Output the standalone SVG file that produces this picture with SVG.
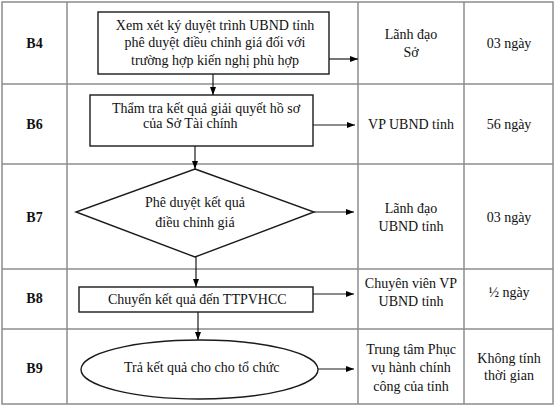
<svg xmlns="http://www.w3.org/2000/svg" width="555" height="407" viewBox="0 0 555 407">
<defs>
<marker id="ah" markerWidth="8" markerHeight="6" refX="8" refY="3" orient="auto" markerUnits="userSpaceOnUse">
<path d="M0,0 L8,3 L0,6 Z" fill="#000"/>
</marker>
<style>
.grid{stroke:#8c8c8c;stroke-width:1.5;fill:none}
.shape{stroke:#1a1a1a;stroke-width:1.4;fill:#fff}
.conn{stroke:#1a1a1a;stroke-width:1.2;fill:none;marker-end:url(#ah)}
text{font-family:"Liberation Serif","Times New Roman",serif;font-size:14px;fill:#111}
.c{text-anchor:middle}
.b{font-weight:bold}
</style>
</defs>
<rect width="555" height="407" fill="#fff"/>
<g id="table">
<rect class="grid" x="2" y="2" width="551" height="402"/>
<line class="grid" x1="67" y1="2" x2="67" y2="404"/>
<line class="grid" x1="358" y1="2" x2="358" y2="404"/>
<line class="grid" x1="464" y1="2" x2="464" y2="404"/>
<line class="grid" x1="2" y1="84" x2="553" y2="84"/>
<line class="grid" x1="2" y1="164" x2="553" y2="164"/>
<line class="grid" x1="2" y1="269" x2="553" y2="269"/>
<line class="grid" x1="2" y1="329" x2="553" y2="329"/>
</g>
<g id="labels">
<text class="c b" x="34.5" y="48">B4</text>
<text class="c b" x="34.5" y="129">B6</text>
<text class="c b" x="34.5" y="222">B7</text>
<text class="c b" x="34.5" y="303">B8</text>
<text class="c b" x="34.5" y="373">B9</text>
</g>
<g id="actors">
<text class="c" x="411" y="39">Lãnh đạo</text>
<text class="c" x="411" y="57">Sở</text>
<text class="c" x="411" y="129">VP UBND tỉnh</text>
<text class="c" x="411" y="213">Lãnh đạo</text>
<text class="c" x="411" y="231">UBND tỉnh</text>
<text class="c" x="411" y="288">Chuyên viên VP</text>
<text class="c" x="411" y="306">UBND tỉnh</text>
<text class="c" x="411" y="354">Trung tâm Phục</text>
<text class="c" x="411" y="372">vụ hành chính</text>
<text class="c" x="411" y="391">công của tỉnh</text>
</g>
<g id="times">
<text class="c" x="509" y="48">03 ngày</text>
<text class="c" x="509" y="129">56 ngày</text>
<text class="c" x="509" y="222">03 ngày</text>
<text class="c" x="509" y="297">½ ngày</text>
<text class="c" x="509" y="363">Không tính</text>
<text class="c" x="509" y="380">thời gian</text>
</g>
<g id="connectors">
<line class="conn" x1="213" y1="74" x2="213" y2="95"/>
<line class="conn" x1="329" y1="59" x2="358" y2="59"/>
<line class="conn" x1="195" y1="146" x2="195" y2="169"/>
<line class="conn" x1="313" y1="125" x2="355" y2="125"/>
<line class="conn" x1="314" y1="212" x2="354" y2="212"/>
<line class="conn" x1="196" y1="257" x2="196" y2="287"/>
<line class="conn" x1="313" y1="294" x2="354" y2="294"/>
<line class="conn" x1="198" y1="312" x2="198" y2="340"/>
<line class="conn" x1="318" y1="369" x2="354" y2="369"/>
</g>
<g id="n-b4">
<rect class="shape" x="98" y="12" width="231" height="62"/>
<text class="c" x="215" y="29.5">Xem xét ký duyệt trình UBND tỉnh</text>
<text class="c" x="215" y="47">phê duyệt điều chỉnh giá đối với</text>
<text class="c" x="215" y="64.5">trường hợp kiến nghị phù hợp</text>
</g>
<g id="n-b6">
<rect class="shape" x="90" y="95" width="223" height="51"/>
<text x="112" y="113">Thẩm tra kết quả giải quyết hồ sơ</text>
<text x="143" y="128">của Sở Tài chính</text>
</g>
<g id="n-b7">
<polygon class="shape" points="195,169 314,212 195,257 76,212"/>
<text class="c" x="195" y="207">Phê duyệt kết quả</text>
<text class="c" x="195" y="227">điều chỉnh giá</text>
</g>
<g id="n-b8">
<rect class="shape" x="79" y="287" width="234" height="25"/>
<text x="108" y="304">Chuyển kết quả đến TTPVHCC</text>
</g>
<g id="n-b9">
<ellipse class="shape" cx="199.5" cy="369.5" rx="118.5" ry="29.5"/>
<text x="124" y="372">Trả kết quả cho cho tổ chức</text>
</g>
</svg>
